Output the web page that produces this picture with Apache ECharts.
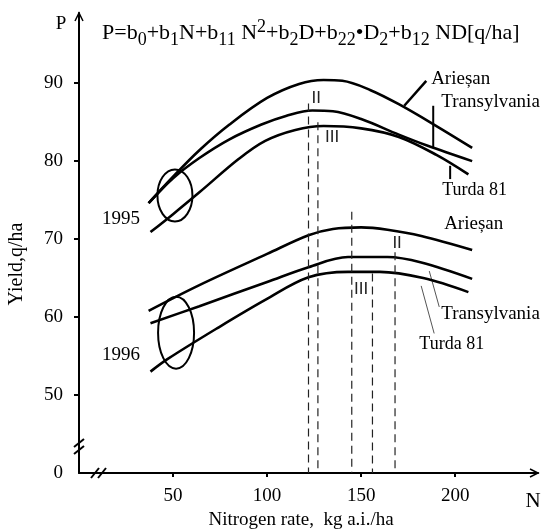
<!DOCTYPE html>
<html><head><meta charset="utf-8">
<script src="https://cdn.jsdelivr.net/npm/echarts@6/dist/echarts.min.js"></script>
<style>html,body{margin:0;padding:0;background:#fff}#c{width:551px;height:531px}</style>
</head><body><div id="c"></div>
<script>
// ---- data ----
const ariesan95N = [37, 50, 64, 80, 100, 117, 130, 140, 155, 170, 190, 209];
const ariesan95Y = [74.6, 78.0, 81.4, 84.7, 88.1, 89.9, 90.4, 90.3, 89.1, 87.3, 84.5, 81.7];
const transyl95N = [37, 50, 64, 80, 97, 110, 124, 135, 150, 170, 185, 209];
const transyl95Y = [74.6, 77.8, 80.4, 82.8, 84.7, 85.8, 86.5, 86.4, 85.4, 83.4, 82.0, 80.0];
const turda95N   = [38, 50, 64, 85, 99, 115, 130, 150, 170, 190, 207];
const turda95Y   = [70.9, 73.2, 76.0, 80.3, 82.6, 84.0, 84.5, 84.2, 83.1, 80.8, 78.3];
const ariesan96N = [37, 64, 100, 122, 135, 150, 164, 182, 209];
const ariesan96Y = [60.8, 64.1, 68.1, 70.5, 71.3, 71.5, 71.2, 70.4, 68.6];
const transyl96N = [38, 64, 100, 122, 143, 164, 182, 209];
const transyl96Y = [59.2, 61.4, 64.5, 66.4, 67.7, 67.7, 67.0, 64.9];
const turda96N   = [38, 47, 73, 99, 122, 143, 160, 183, 207];
const turda96Y   = [53.0, 54.6, 58.5, 62.2, 65.1, 65.8, 65.8, 65.0, 63.2];
const optimumN   = [122, 127, 145, 156, 168];
const optimumTop = [87.4, 85.0, 73.5, 65.6, 68.3];
const xTickValues = [50, 100, 150, 200];
const yTickValues = [50, 60, 70, 80, 90];
const yLabelValues = [40, 50, 60, 70, 80, 90];

const SERIF = 'Liberation Serif';
const chart = echarts.init(document.getElementById('c'), null, {renderer: 'canvas'});
const pairs = (xs, ys) => xs.map((x, i) => [x, ys[i]]);
const curves = [
  [ariesan95N, ariesan95Y], [transyl95N, transyl95Y], [turda95N, turda95Y],
  [ariesan96N, ariesan96Y], [transyl96N, transyl96Y], [turda96N, turda96Y]
];
const series = curves.map(c => ({
  type: 'line', data: pairs(c[0], c[1]), smooth: 0.35, symbol: 'none', silent: true,
  lineStyle: {color: '#000', width: 2.6}
})).concat(optimumN.map((n, i) => ({
  type: 'line', data: [[n, optimumTop[i]], [n, 40]], symbol: 'none', silent: true,
  lineStyle: {color: '#222', width: 1.2, type: [8, 5]}
})));

chart.setOption({
  animation: false,
  backgroundColor: '#fff',
  grid: {left: 79, right: 13, top: 13, bottom: 58},
  xAxis: {
    type: 'value', min: 0, max: 244,
    axisLine: {show: true, lineStyle: {color: '#000', width: 2}},
    axisTick: {show: true, customValues: xTickValues, length: 4, lineStyle: {color: '#000', width: 2}},
    axisLabel: {customValues: xTickValues, fontFamily: SERIF, fontSize: 19, color: '#000', margin: 14},
    splitLine: {show: false}
  },
  yAxis: {
    type: 'value', min: 40, max: 99,
    axisLine: {show: true, lineStyle: {color: '#000', width: 2}},
    axisTick: {show: true, customValues: yTickValues, length: 5, lineStyle: {color: '#000', width: 2}},
    axisLabel: {customValues: yLabelValues, fontFamily: SERIF, fontSize: 19, color: '#000', margin: 16,
      formatter: v => (v === 40 ? '0' : String(v))},
    splitLine: {show: false}
  },
  series: series
});

const P = (n, v) => chart.convertToPixel({gridIndex: 0}, [n, v]);
const txt = (n, v, s, opt) => {
  const p = P(n, v);
  return Object.assign({type: 'text', x: p[0], y: p[1], silent: true,
    style: Object.assign({text: s, font: '19px ' + SERIF, fill: '#000', align: 'left', verticalAlign: 'middle'}, opt || {})});
};
const seg = (a, b, w, col) => {
  const p1 = P(a[0], a[1]), p2 = P(b[0], b[1]);
  return {type: 'line', silent: true, shape: {x1: p1[0], y1: p1[1], x2: p2[0], y2: p2[1]},
    style: {stroke: col || '#000', lineWidth: w || 2}};
};
const ell = (n, v, rx, ry) => {
  const p = P(n, v);
  return {type: 'ellipse', silent: true, shape: {cx: p[0], cy: p[1], rx: rx, ry: ry},
    style: {fill: 'none', stroke: '#000', lineWidth: 2}};
};

const org = P(0, 40);      // origin
const yEnd = P(0, 99);
const xEnd = P(244, 40);
const g = [];
// arrows
g.push({type: 'polyline', silent: true, shape: {points: [[yEnd[0] - 4, yEnd[1] + 8], [yEnd[0], yEnd[1]], [yEnd[0] + 4, yEnd[1] + 8]]}, style: {stroke: '#000', lineWidth: 1.5, fill: 'none'}});
g.push({type: 'polyline', silent: true, shape: {points: [[xEnd[0] - 8, xEnd[1] - 4], [xEnd[0], xEnd[1]], [xEnd[0] - 8, xEnd[1] + 4]]}, style: {stroke: '#000', lineWidth: 1.5, fill: 'none'}});
// y-axis break
const yb = org[1] - 27;
g.push({type: 'rect', silent: true, shape: {x: org[0] - 3, y: yb - 4, width: 6, height: 7}, style: {fill: '#fff'}});
g.push({type: 'line', silent: true, shape: {x1: org[0] - 5, y1: yb + 1, x2: org[0] + 5, y2: yb - 7}, style: {stroke: '#000', lineWidth: 2}});
g.push({type: 'line', silent: true, shape: {x1: org[0] - 5, y1: yb + 8, x2: org[0] + 5, y2: yb}, style: {stroke: '#000', lineWidth: 2}});
// x-axis break
const xb = org[0] + 14;
g.push({type: 'rect', silent: true, shape: {x: xb + 2, y: org[1] - 3, width: 6, height: 6}, style: {fill: '#fff'}});
g.push({type: 'line', silent: true, shape: {x1: xb - 2, y1: org[1] + 5, x2: xb + 6, y2: org[1] - 5}, style: {stroke: '#000', lineWidth: 2}});
g.push({type: 'line', silent: true, shape: {x1: xb + 5, y1: org[1] + 5, x2: xb + 13, y2: org[1] - 5}, style: {stroke: '#000', lineWidth: 2}});

// axis letters and titles
g.push({type: 'text', silent: true, x: yEnd[0] - 18, y: yEnd[1] + 11, style: {text: 'P', font: '19px ' + SERIF, fill: '#000', align: 'center', verticalAlign: 'middle'}});
g.push({type: 'text', silent: true, x: xEnd[0] - 5, y: org[1] + 28, style: {text: 'N', font: '21px ' + SERIF, fill: '#000', align: 'center', verticalAlign: 'middle'}});
g.push({type: 'text', silent: true, x: 301, y: 520, style: {text: 'Nitrogen rate,  kg a.i./ha', font: '19px ' + SERIF, fill: '#000', align: 'center', verticalAlign: 'middle'}});
g.push({type: 'text', silent: true, x: 17, y: 264, rotation: Math.PI / 2, style: {text: 'Yield,q/ha', font: '20px ' + SERIF, fill: '#000', align: 'center', verticalAlign: 'middle'}});

// formula
g.push({type: 'text', silent: true, x: 102, y: 18, style: {
  text: '{a|P=b}{b|0}{a|+b}{b|1}{a|N+b}{b|11}{a| N}{c|2}{a|+b}{b|2}{a|D+b}{b|22}{a|•D}{b|2}{a|+b}{b|12}{a| ND[q/ha]}',
  align: 'left', verticalAlign: 'top', fill: '#000',
  rich: {
    a: {fontFamily: SERIF, fontSize: 22, lineHeight: 31, verticalAlign: 'middle', fill: '#000'},
    b: {fontFamily: SERIF, fontSize: 18, lineHeight: 18, verticalAlign: 'bottom', fill: '#000'},
    c: {fontFamily: SERIF, fontSize: 18, lineHeight: 18, verticalAlign: 'top', fill: '#000'}
  }}});

// ellipses and year labels
g.push(ell(51, 75.6, 17.5, 26));
g.push(ell(51.6, 58.0, 18, 36));
g.push(txt(22.3, 72.6, '1995', {align: 'center'}));
g.push(txt(22.3, 55.1, '1996', {align: 'center'}));

// 1995 variety labels and leaders
g.push(txt(187.2, 90.5, 'Arieșan'));
g.push(seg([184.6, 90.3], [172.9, 87.1], 2.5));
g.push(txt(192.6, 87.6, 'Transylvania'));
g.push(seg([188.3, 87.1], [188.3, 81.8], 2));
g.push(txt(193.1, 76.2, 'Turda 81', {font: '18px ' + SERIF}));
g.push(seg([197.3, 79.4], [197.3, 77.7], 2));
// 1996 variety labels and leaders
g.push(txt(194.1, 71.9, 'Arieșan'));
g.push(txt(192.6, 60.4, 'Transylvania'));
g.push(seg([186.2, 65.9], [191.5, 61.3], 1, '#555'));
g.push(txt(180.9, 56.5, 'Turda 81', {font: '18px ' + SERIF}));
g.push(seg([181.9, 64.0], [188.8, 57.9], 1, '#555'));
// roman numerals
const rom = (n, v, s) => txt(n, v, s, {font: '17px Liberation Sans', fill: '#222', align: 'center'});
g.push(rom(126.1, 88.0, 'II'));
g.push(rom(134.6, 83.0, 'III'));
g.push(rom(169.1, 69.4, 'II'));
g.push(rom(150.0, 63.6, 'III'));

chart.setOption({graphic: g});
</script></body></html>
